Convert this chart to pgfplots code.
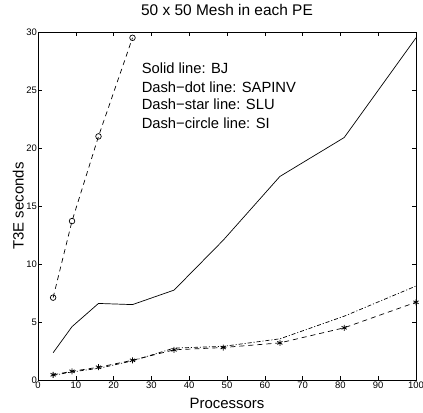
\documentclass[border=0pt]{standalone}
\usepackage{fontspec}
\setmainfont{Liberation Sans}
\usepackage{pgfplots}
\pgfplotsset{compat=1.18}
\begin{document}
\begin{tikzpicture}
\begin{axis}[
  scale only axis,
  width=378bp, height=348bp,
  xmin=0, xmax=100, ymin=0, ymax=30,
  xtick={0,10,...,100}, ytick={0,5,...,30},
  tick align=inside,
  major tick length=4bp,
  tick style={black, line width=0.5pt},
  axis line style={line width=1pt},
  ticklabel style={font=\fontsize{9.5}{11}\selectfont},
  yticklabel style={inner sep=1bp},
  xticklabel style={inner sep=2bp},
  /pgf/number format/assume math mode=true,
  xlabel={Processors}, ylabel={T3E seconds},
  xlabel style={font=\fontsize{15}{17}\selectfont, at={([yshift=-28bp]axis description cs:0.5,0)}, anchor=base},
  ylabel style={font=\fontsize{15}{17}\selectfont, at={([xshift=-14.5bp]axis description cs:0,0.5)}, anchor=base},
  title={50 x 50 Mesh in each PE},
  title style={font=\fontsize{15.5}{17}\selectfont, at={([yshift=11bp]axis description cs:0.5,1)}, anchor=base},
  every axis plot/.append style={black, line width=0.7pt},
  clip=false,
]
% BJ solid
\addplot[solid] coordinates {(4,2.35) (9,4.6) (16,6.6) (25,6.5) (36,7.75) (49,12.05) (64,17.55) (81,20.9) (100,29.5)};
% SAPINV dash-dot
\addplot[dash pattern=on 4bp off 2bp on 1bp off 2bp] coordinates {(4,0.4) (9,0.7) (16,1.0) (25,1.65) (36,2.75) (49,2.9) (64,3.55) (81,5.5) (100,8.1)};
% SLU dash-star
\addplot[dash pattern=on 5bp off 4bp, mark=asterisk, mark size=3bp, mark options={solid, line width=0.8pt}] coordinates {(4,0.45) (9,0.75) (16,1.1) (25,1.7) (36,2.6) (49,2.8) (64,3.2) (81,4.5) (100,6.7)};
% SI dash-circle
\addplot[dash pattern=on 5bp off 4bp, mark=o, mark size=2.8bp, mark options={solid}] coordinates {(4,7.1) (9,13.7) (16,21.0) (25,29.5)};
\node[anchor=base west, font=\fontsize{14.8}{17}\selectfont, inner sep=0pt] at (axis cs:27.4,26.4) {Solid line: BJ};
\node[anchor=base west, font=\fontsize{14.8}{17}\selectfont, inner sep=0pt] at (axis cs:27.4,24.8) {Dash−dot line: SAPINV};
\node[anchor=base west, font=\fontsize{14.8}{17}\selectfont, inner sep=0pt] at (axis cs:27.4,23.28) {Dash−star line: SLU};
\node[anchor=base west, font=\fontsize{14.8}{17}\selectfont, inner sep=0pt] at (axis cs:27.4,21.72) {Dash−circle line: SI};
\end{axis}
\pgfresetboundingbox
\path[use as bounding box] ([xshift=-38bp,yshift=-33bp]current axis.south west) rectangle ([xshift=7bp,yshift=32bp]current axis.north east);
\end{tikzpicture}
\end{document}
